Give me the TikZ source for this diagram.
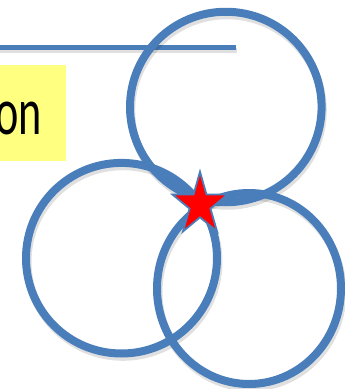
\documentclass[tikz,border=0pt]{standalone}
\usepackage{fontspec}
\setmainfont{Carlito}
\usepackage{xcolor}
\usepackage{tikz}
\usetikzlibrary{positioning,shapes.geometric}
\definecolor{ringblue}{HTML}{4A7EBB}
\definecolor{notebg}{HTML}{FFFF80}
\definecolor{starred}{HTML}{FF0000}

\begin{document}
\begin{tikzpicture}[
  x=1pt, y=-1pt,
  ring/.style={ellipse, draw=ringblue, line width=8pt, inner sep=0pt},
  ringshade/.style={ellipse, draw=black, line width=8pt, inner sep=0pt, draw opacity=0.12},
  rule/.style={draw=ringblue, line width=5pt},
  ]
  \useasboundingbox (0,0) rectangle (345,389);
  \clip (0,0) rectangle (345,389);
  % label box, cut off at the left edge
  \node[fill=notebg, minimum width=72pt, minimum height=96pt, inner sep=0pt, anchor=north east] (note) at (66,65) {};
  \node[anchor=base east, inner sep=0pt, font=\fontsize{67}{67}\selectfont] (word) at (42,134) {\scalebox{0.66}[1]{on}};
  % top rule
  \coordinate (ruleA) at (-5,47);
  \coordinate (ruleB) at (236,47);
  \draw[draw=black, line width=5pt, draw opacity=0.12] ([shift={(1,3)}]ruleA) -- ([shift={(1,3)}]ruleB);
  \draw[rule] (ruleA) -- (ruleB);
  % soft shadows under the rings
  \node[ringshade, minimum width=191.6pt, minimum height=190.5pt] (upS) at (227,110.5) {};
  \node[ringshade, minimum width=191pt, minimum height=190.6pt] (leftS) at (123,261.5) {};
  \node[ringshade, minimum width=184pt, minimum height=191pt] (rightS) at (250.5,292) {};
  % the three rings
  \node[ring, minimum width=191.6pt, minimum height=190.5pt] (up) at (225.8,107) {};
  \node[ring, minimum width=191pt, minimum height=190.6pt] (left) at (121.5,258.2) {};
  \node[ring, minimum width=184pt, minimum height=191pt] (right) at (249,288.5) {};
  % star where they meet
  \filldraw[fill=starred, draw=ringblue, line width=1.8pt, line join=miter]
    plot[samples at={0,...,9}, variable=\k]
      ({200+(20+9*cos(180*\k))*sin(36*\k)}, {204.7-(22.8+10.2*cos(180*\k))*cos(36*\k)}) -- cycle;
\end{tikzpicture}
\end{document}
